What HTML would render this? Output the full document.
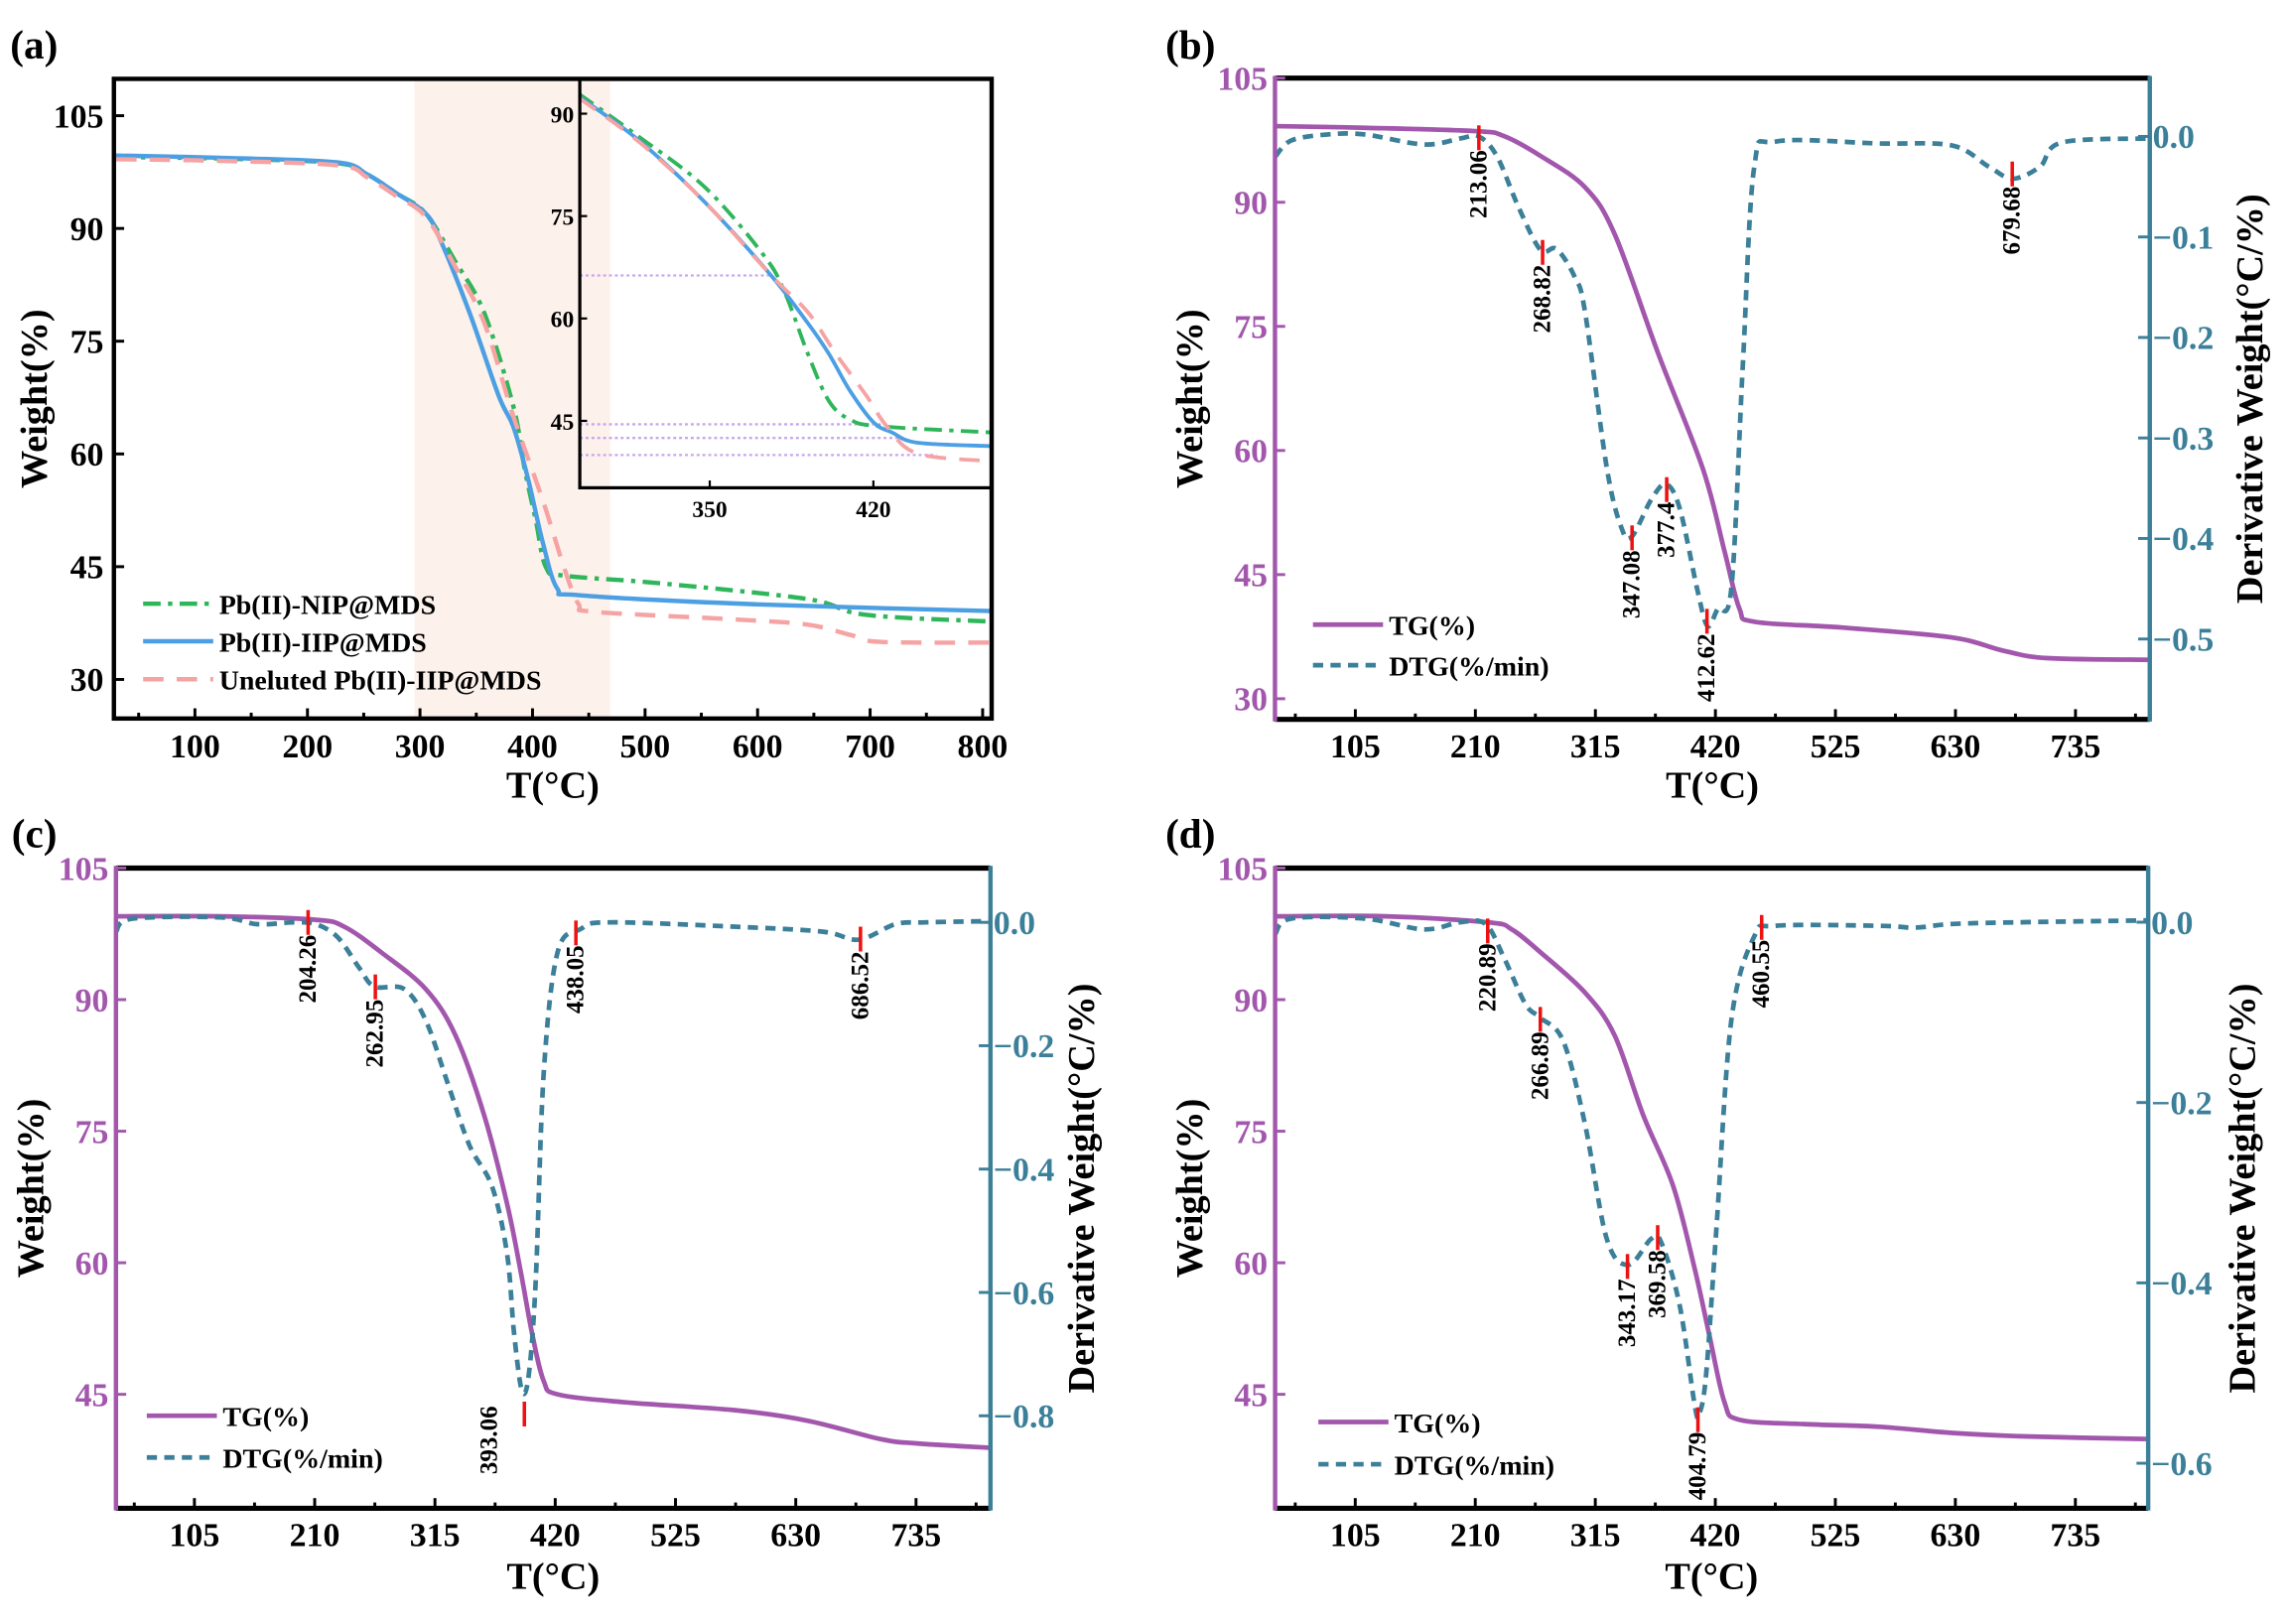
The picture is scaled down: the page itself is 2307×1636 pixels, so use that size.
<!DOCTYPE html>
<html><head><meta charset="utf-8"><title>TG/DTG curves</title>
<style>
html,body{margin:0;padding:0;background:#fff;}
svg{display:block;}
text{font-family:"Liberation Serif",serif;font-weight:bold;}
</style></head>
<body>
<svg id="fig" xmlns="http://www.w3.org/2000/svg" width="2307" height="1636" viewBox="0 0 1568 1112" preserveAspectRatio="none">
<rect width="1568" height="1112" fill="#fff"/>
</svg>
<script>
// ---------- Panel (a) data ----------
const aNipT=[30,122,226,253,279,305,331,357,383,393,403,412,429,513,644,696,808];
const aNipW=[99.5,99.3,98.7,97.2,94.7,92,85.7,78.8,66.3,58,51.1,44.9,43.8,42.8,40.7,38.6,37.7];
const aIipT=[30,122,226,253,279,305,318,344,370,383,396,409,422,442,598,808];
const aIipW=[99.7,99.4,98.8,97.2,94.7,92,88.5,78.8,67.7,63.6,56.7,48.3,42.1,41.2,40,39.1];
const aUneT=[30,120,227,253,279,305,331,357,383,409,428,441,455,578,644,683,709,808];
const aUneW=[99.2,99.0,98.4,96.8,94.3,91.6,85,77.5,65,53.9,44.9,40,39,38,37.3,35.9,35,34.9];
const insNipT=[294,319,348,373,382,392,401,410,423,471];
const insNipW=[92.9,86.8,79.2,69.3,63.9,54.8,47.9,45.2,44.2,43.3];
const insIipT=[294,320,348,376,392,401,410,420,428,439,471];
const insIipW=[92.5,86,77,66.4,59.3,54.8,49.4,44.8,43.3,41.8,41.3];
const insUneT=[294,320,348,376,392,404,417,426,439,471];
const insUneW=[92.3,85.8,77,66.4,60.9,54.8,48.7,44.1,40.2,39.1];
const insGuideW=[66.3,44.5,42.5,40.0];
const aXTicks=[100,200,300,400,500,600,700,800];
const aYTicks=[30,45,60,75,90,105];
const insXTicks=[350,420];
const insYTicks=[45,60,75,90];
const aLegend=["Pb(II)-NIP@MDS","Pb(II)-IIP@MDS","Uneluted Pb(II)-IIP@MDS"];

// ---------- Panel (b) data ----------
const bTgT=[35,113,210,235,267,306,332,370,409,428,441,454,531,627,672,711,800];
const bTgW=[99.2,99.0,98.6,98.0,95.6,91.8,86.1,71.7,57.8,47.8,40.9,39.3,38.6,37.4,35.8,34.9,34.7];
const bDtgT=[35,49,81,113,165,197,213,229,248,267,281,297,306,325,338,347,364,377,389,404,413,422,434,444,454,473,563,627,659,680,704,723,800];
const bDtgV=[-0.02,-0.004,0.002,0.002,-0.008,-0.002,0,-0.02,-0.071,-0.113,-0.112,-0.14,-0.175,-0.33,-0.39,-0.398,-0.361,-0.346,-0.371,-0.45,-0.487,-0.47,-0.449,-0.227,-0.03,-0.005,-0.007,-0.009,-0.03,-0.042,-0.03,-0.006,-0.002];
const bPeakT=[213.06,268.82,347.08,377.4,412.62,679.68];
const bPeakV=[0.011,-0.103,-0.387,-0.339,-0.47,-0.025];
const bPeakLbl=["213.06","268.82","347.08","377.4","412.62","679.68"];
const bYTicks=[30,45,60,75,90,105];
const bDTicks=[0,-0.1,-0.2,-0.3,-0.4,-0.5];

// ---------- Panel (c) data ----------
const cTgT=[36.5,127,211,236,268,307,333,358,378,390,400,410,422,480,576,640,704,736,800];
const cTgW=[99.5,99.5,99.1,98.3,95.4,91.2,85.9,76.8,66.7,58.9,51.8,46.5,45.0,44.1,43.2,42.0,39.9,39.4,38.9];
const cDtgT=[36.5,51,128,160,192,211,230,249,262,288,307,326,345,365,378,384,391,397,403,410,422,442,467,576,653,685,717,743,800];
const cDtgV=[-0.015,0.006,0.008,-0.003,0,-0.003,-0.024,-0.074,-0.104,-0.108,-0.159,-0.26,-0.361,-0.429,-0.538,-0.665,-0.76,-0.732,-0.58,-0.243,-0.049,-0.011,0,-0.007,-0.015,-0.028,-0.003,0,0.002];
const cPeakT=[204.26,262.95,393.06,438.05,686.52];
const cPeakV=[0.02,-0.0845,-0.777,0.003,-0.007];
const cPeakLbl=["204.26","262.95","393.06","438.05","686.52"];
const cYTicks=[45,60,75,90,105];
const cDTicks=[0,-0.2,-0.4,-0.6,-0.8];

// ---------- Panel (d) data ----------
const dTgT=[35,132,222,242,267,306,332,357,383,402,415,428,441,498,563,627,691,799];
const dTgW=[99.5,99.5,98.8,98.0,95.4,90.8,85.9,76.8,68.8,59.3,51.6,44.1,42.1,41.6,41.3,40.6,40.2,39.9];
const dDtgT=[35,49,113,165,197,219,235,254,267,287,306,325,344,364,373,389,402,406,412,421,434,454,473,563,595,627,691,799];
const dDtgV=[-0.013,0.004,0.004,-0.008,0,-0.002,-0.039,-0.091,-0.106,-0.132,-0.224,-0.351,-0.38,-0.351,-0.356,-0.426,-0.536,-0.545,-0.501,-0.339,-0.109,-0.016,-0.004,-0.004,-0.006,-0.002,0,0.002];
const dPeakT=[220.89,266.89,343.17,369.58,404.79,460.55];
const dPeakV=[0.004,-0.094,-0.368,-0.336,-0.538,0.008];
const dPeakLbl=["220.89","266.89","343.17","369.58","404.79","460.55"];
const dYTicks=[45,60,75,90,105];
const dDTicks=[0,-0.2,-0.4,-0.6];

const tgXTicks=[105,210,315,420,525,630,735];

// ---------- helpers ----------
const NS="http://www.w3.org/2000/svg";
const svg=document.getElementById('fig');
const PURPLE="#a257ad", TEAL="#3b7f99", GREEN="#2fb55a", BLUE="#4b9fe2", PINK="#f5a3a3";
function el(tag,attrs,parent,txt){const e=document.createElementNS(NS,tag);for(const k in attrs)e.setAttribute(k,attrs[k]);if(txt!==undefined)e.textContent=txt;(parent||svg).appendChild(e);return e;}
function lin(d0,d1,r0,r1){return v=>r0+(v-d0)/(d1-d0)*(r1-r0);}
function smoothPath(xs,ys){
  let d="M"+xs[0].toFixed(2)+","+ys[0].toFixed(2);
  for(let i=0;i<xs.length-1;i++){
    const x0=xs[Math.max(i-1,0)],y0=ys[Math.max(i-1,0)],x1=xs[i],y1=ys[i],x2=xs[i+1],y2=ys[i+1],x3=xs[Math.min(i+2,xs.length-1)],y3=ys[Math.min(i+2,ys.length-1)];
    const c1x=x1+(x2-x0)/6,c1y=y1+(y2-y0)/6,c2x=x2-(x3-x1)/6,c2y=y2-(y3-y1)/6;
    d+=" C"+c1x.toFixed(2)+","+c1y.toFixed(2)+" "+c2x.toFixed(2)+","+c2y.toFixed(2)+" "+x2.toFixed(2)+","+y2.toFixed(2);
  }
  return d;
}
let clipN=0;
function clip(x0,y0,x1,y1){const id="cl"+(clipN++);const c=el('clipPath',{id:id});el('rect',{x:x0,y:y0,width:x1-x0,height:y1-y0},c);return "url(#"+id+")";}
function fmtD(v){return v===0?"0.0":"\u2212"+Math.abs(v).toFixed(1);}
const TITLE_T="T(\u00B0C)";

// ---------- panel (a) ----------
(function(){
  const P={x0:78,x1:679,y0:54,y1:492};
  const X=lin(28,808,P.x0,P.x1), Y=lin(24.8,109.9,P.y1,P.y0);
  const g=el('g',{});
  
  
  const sh=el('rect',{x:X(295),y:P.y0,width:X(469)-X(295),height:P.y1-P.y0,fill:"#fdf1eb"},g);
  
  
  const cp=clip(P.x0,P.y0,P.x1,P.y1);
  const series=[[aNipT,aNipW,GREEN,"12 5 3 5","nip-curve"],[aIipT,aIipW,BLUE,"","iip-curve"],[aUneT,aUneW,PINK,"14 9","uneluted-curve"]];
  series.forEach(s=>{
    const p=el('path',{d:smoothPath(s[0].map(X),s[1].map(Y)),fill:"none",stroke:s[2],"stroke-width":3,"stroke-dasharray":s[3],"clip-path":cp},g);
    
    
  });
  const I={x0:397,x1:679,y0:54,y1:334};
  const IX=lin(294.4,470.6,I.x0,I.x1), IY=lin(35.2,95.1,I.y1,I.y0);
  const ig=el('g',{},g);
  
  
  el('rect',{x:I.x0,y:I.y0,width:I.x1-I.x0,height:I.y1-I.y0,fill:"#fff"},ig);
  el('rect',{x:I.x0,y:I.y0,width:X(469)-I.x0,height:I.y1-I.y0,fill:"#fdf1eb"},ig);
  const icp=clip(I.x0,I.y0,I.x1,I.y1);
  insGuideW.forEach((w,i)=>{
    const xe=[IX(376),IX(425),IX(432),IX(447)][i];
    const l=el('line',{x1:I.x0,x2:xe,y1:IY(w),y2:IY(w),stroke:"#c9a6ee","stroke-width":1.6,"stroke-dasharray":"2 2"},ig);
    
    
  });
  [[insNipT,insNipW,GREEN,"12 5 3 5"],[insIipT,insIipW,BLUE,""],[insUneT,insUneW,PINK,"14 9"]].forEach(s=>{
    const p=el('path',{d:smoothPath(s[0].map(IX),s[1].map(IY)),fill:"none",stroke:s[2],"stroke-width":2.6,"stroke-dasharray":s[3],"clip-path":icp},ig);
    
    
  });
  el('rect',{x:I.x0,y:I.y0,width:I.x1-I.x0,height:I.y1-I.y0,fill:"none",stroke:"#000","stroke-width":2.2},ig);
  insXTicks.forEach(t=>{el('line',{x1:IX(t),x2:IX(t),y1:I.y1,y2:I.y1-5,stroke:"#000","stroke-width":1.5},ig);
    const tx=el('text',{x:IX(t),y:I.y1+20,"font-size":16,"text-anchor":"middle"},ig,String(t));
    
    });
  insYTicks.forEach(v=>{el('line',{x1:I.x0,x2:I.x0+5,y1:IY(v),y2:IY(v),stroke:"#000","stroke-width":1.5},ig);
    const tx=el('text',{x:I.x0-4,y:IY(v)+6,"font-size":16,"text-anchor":"end"},ig,String(v));
    
    });
  el('rect',{x:P.x0,y:P.y0,width:P.x1-P.x0,height:P.y1-P.y0,fill:"none",stroke:"#000","stroke-width":3},g);
  for(let t=50;t<=800;t+=50){const major=t%100===0;el('line',{x1:X(t),x2:X(t),y1:P.y1,y2:P.y1-(major?7:4),stroke:"#000","stroke-width":2},g);}
  aXTicks.forEach(t=>{const tx=el('text',{x:X(t),y:518.5,"font-size":23,"text-anchor":"middle"},g,String(t));
    
    });
  aYTicks.forEach(v=>{el('line',{x1:P.x0,x2:P.x0+7,y1:Y(v),y2:Y(v),stroke:"#000","stroke-width":2},g);
    const tx=el('text',{x:71,y:Y(v)+8,"font-size":23,"text-anchor":"end"},g,String(v));
    
    });
  const xt=el('text',{x:X(418),y:546,"font-size":26,"text-anchor":"middle"},g,TITLE_T);
  
  
  const yt=el('text',{x:0,y:0,"font-size":26,"text-anchor":"middle",transform:"translate(32,273) rotate(-90)"},g,"Weight(%)");
  
  
  const pl=el('text',{x:7,y:40,"font-size":28},g,"(a)");
  
  
  const legY=[413.4,439.1,465.1],legC=[GREEN,BLUE,PINK],legD=["12 5 3 5","","14 9"];
  aLegend.forEach((s,i)=>{
    const lg=el('g',{},g);
    
    
    el('line',{x1:98,x2:146,y1:legY[i],y2:legY[i],stroke:legC[i],"stroke-width":3,"stroke-dasharray":legD[i]},lg);
    el('text',{x:150,y:legY[i]+7,"font-size":19},lg,s);
  });
})();

// ---------- dual-axis panels ----------
function dualPanel(cfg){
  const P=cfg.box;
  const X=lin(cfg.tmin,cfg.tmax,P.x0,P.x1), Y=lin(cfg.wmin,cfg.wmax,P.y1,P.y0), D=lin(cfg.dmin,cfg.dmax,P.y1,P.y0);
  const g=el('g',{});
  
  
  const cp=clip(P.x0,P.y0,P.x1,P.y1);
  const tg=el('path',{d:smoothPath(cfg.tgT.map(X),cfg.tgW.map(Y)),fill:"none",stroke:PURPLE,"stroke-width":3.2,"clip-path":cp},g);
  
  
  const dt=el('path',{d:smoothPath(cfg.dT.map(X),cfg.dV.map(D)),fill:"none",stroke:TEAL,"stroke-width":3.2,"stroke-dasharray":"7 5","clip-path":cp},g);
  
  
  cfg.pkT.forEach((t,i)=>{
    const px=X(t), py=D(cfg.pkV[i]);
    const m=el('line',{x1:px,x2:px,y1:py,y2:py+17,stroke:"#ee1111","stroke-width":2.4},g);
    
    
    const off=(cfg.lblOff&&cfg.lblOff[i])||[0,17];
    const lx=px+off[0], ly=py+off[1];
    const tx=el('text',{x:0,y:0,"font-size":17,"text-anchor":"end","dominant-baseline":"central",transform:"translate("+lx.toFixed(1)+","+ly.toFixed(1)+") rotate(-90)"},g,cfg.pkL[i]);
    
    
  });
  el('line',{x1:P.x0,x2:P.x1,y1:P.y0,y2:P.y0,stroke:"#000","stroke-width":3.5},g);
  el('line',{x1:P.x0,x2:P.x1,y1:P.y1,y2:P.y1,stroke:"#000","stroke-width":3.5},g);
  el('line',{x1:P.x0,x2:P.x0,y1:P.y0-1.5,y2:P.y1+1.5,stroke:PURPLE,"stroke-width":3},g);
  el('line',{x1:P.x1,x2:P.x1,y1:P.y0-1.5,y2:P.y1+1.5,stroke:TEAL,"stroke-width":3},g);
  for(let t=52.5;t<cfg.tmax;t+=52.5){const major=Math.abs((t/105)-Math.round(t/105))<1e-6;el('line',{x1:X(t),x2:X(t),y1:P.y1,y2:P.y1-(major?7:4),stroke:"#000","stroke-width":2},g);}
  tgXTicks.forEach(t=>{const tx=el('text',{x:X(t),y:cfg.xLblY,"font-size":23,"text-anchor":"middle"},g,String(t));
    
    });
  cfg.yT.forEach(v=>{el('line',{x1:P.x0,x2:P.x0+7,y1:Y(v),y2:Y(v),stroke:PURPLE,"stroke-width":2},g);
    const tx=el('text',{x:P.x0-5,y:Y(v)+8,"font-size":23,"text-anchor":"end",fill:PURPLE},g,String(v));
    
    });
  cfg.dTk.forEach(v=>{el('line',{x1:P.x1-8,x2:P.x1,y1:D(v),y2:D(v),stroke:TEAL,"stroke-width":2},g);
    const tx=el('text',{x:P.x1+2,y:D(v)+8,"font-size":23,"text-anchor":"start",fill:TEAL},g,fmtD(v));
    
    });
  const xt=el('text',{x:(P.x0+P.x1)/2,y:cfg.xTitleY,"font-size":26,"text-anchor":"middle"},g,TITLE_T);
  
  
  const yt=el('text',{x:0,y:0,"font-size":26,"text-anchor":"middle",transform:"translate("+(P.x0-50)+","+((P.y0+P.y1)/2)+") rotate(-90)"},g,"Weight(%)");
  
  
  const rt=el('text',{x:0,y:0,"font-size":26,"text-anchor":"middle",transform:"translate("+cfg.rTitleX+","+((P.y0+P.y1)/2)+") rotate(-90)"},g,"Derivative Weight(\u00B0C/%)");
  
  
  const pl=el('text',{x:cfg.lblX,y:cfg.lblY,"font-size":28},g,cfg.label);
  
  
  const L=cfg.leg;
  const l1=el('g',{},g);
  
  
  el('line',{x1:L.x,x2:L.x+48,y1:L.y1,y2:L.y1,stroke:PURPLE,"stroke-width":3.2},l1);
  el('text',{x:L.x+52,y:L.y1+7,"font-size":19},l1,"TG(%)");
  const l2=el('g',{},g);
  
  
  el('line',{x1:L.x,x2:L.x+48,y1:L.y2,y2:L.y2,stroke:TEAL,"stroke-width":3.2,"stroke-dasharray":"7 5"},l2);
  el('text',{x:L.x+52,y:L.y2+7,"font-size":19},l2,"DTG(%/min)");
}

dualPanel({name:"panel-b",label:"(b)",lblX:798,lblY:40,box:{x0:873,x1:1472,y0:53.5,y1:492.6},tmin:34.7,tmax:800,wmin:27.5,wmax:105,dmin:-0.58,dmax:0.058,
  tgT:bTgT,tgW:bTgW,dT:bDtgT,dV:bDtgV,pkT:bPeakT,pkV:bPeakV,pkL:bPeakLbl,yT:bYTicks,dTk:bDTicks,
  xLblY:518.5,xTitleY:546,rTitleX:1549,leg:{x:899,y1:427.7,y2:455.5}});
dualPanel({name:"panel-c",label:"(c)",lblX:8,lblY:580,box:{x0:79.4,x1:678.2,y0:594.4,y1:1032.8},tmin:36.5,tmax:800,wmin:32,wmax:105,dmin:-0.95,dmax:0.088,
  tgT:cTgT,tgW:cTgW,dT:cDtgT,dV:cDtgV,pkT:cPeakT,pkV:cPeakV,pkL:cPeakLbl,yT:cYTicks,dTk:cDTicks,
  lblOff:[null,null,[-24,3],null,null],
  xLblY:1058.5,xTitleY:1088,rTitleX:749,leg:{x:100.5,y1:969.4,y2:998}});
dualPanel({name:"panel-d",label:"(d)",lblX:798,lblY:580,box:{x0:873.1,x1:1470.9,y0:594.4,y1:1032.8},tmin:34.9,tmax:798.7,wmin:32,wmax:105,dmin:-0.65,dmax:0.06,
  tgT:dTgT,tgW:dTgW,dT:dDtgT,dV:dDtgV,pkT:dPeakT,pkV:dPeakV,pkL:dPeakLbl,yT:dYTicks,dTk:dDTicks,
  xLblY:1058.5,xTitleY:1088,rTitleX:1544,leg:{x:902.7,y1:973.7,y2:1002.6}});
</script>
</body></html>
